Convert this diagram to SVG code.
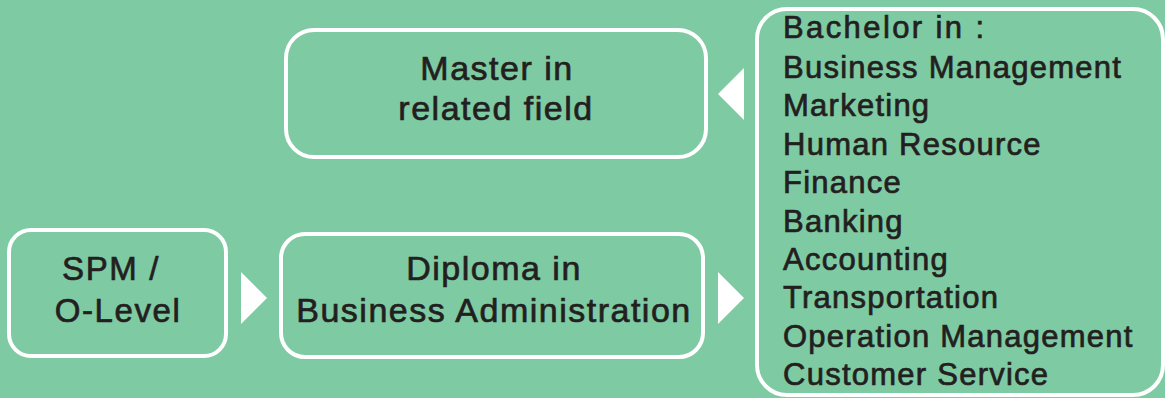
<svg xmlns="http://www.w3.org/2000/svg" width="1165" height="398" viewBox="0 0 1165 398">
<style>
.box{fill:none;stroke:#ffffff;stroke-width:4}
.arr{fill:#ffffff}
text{font-family:"Liberation Sans",Arial,Helvetica,sans-serif;fill:#231f20;stroke:#231f20;stroke-width:0.7px}
.c{text-anchor:middle}
.t1{font-size:33px;letter-spacing:1.6px}
.t2{font-size:34px;letter-spacing:1.5px}
.t3{font-size:31px;letter-spacing:1.25px}
.hd{letter-spacing:2.4px}
</style>
<rect width="1165" height="398" fill="#7ecaa3"/>
<g id="spm">
<rect class="box" x="9" y="230" width="217" height="126" rx="22"/>
<text class="t1 c" x="111" y="280">SPM /</text>
<text class="t1 c" x="118" y="322">O-Level</text>
</g>
<g id="diploma">
<rect class="box" x="281" y="234" width="422" height="123" rx="24"/>
<text class="t2 c" x="494" y="280">Diploma in</text>
<text class="t2 c" x="494" y="322">Business Administration</text>
</g>
<g id="master">
<rect class="box" x="286" y="30" width="420" height="127" rx="28"/>
<text class="t2 c" x="497" y="80">Master in</text>
<text class="t2 c" x="496" y="120">related field</text>
</g>
<g id="bachelor">
<rect class="box" x="757" y="9" width="406" height="386" rx="30"/>
<text class="t3 hd" x="783" y="38">Bachelor in :</text>
<text class="t3" x="783" y="78">Business Management</text>
<text class="t3" x="783" y="116">Marketing</text>
<text class="t3" x="783" y="155">Human Resource</text>
<text class="t3" x="783" y="193">Finance</text>
<text class="t3" x="783" y="232">Banking</text>
<text class="t3" x="783" y="270">Accounting</text>
<text class="t3" x="783" y="308">Transportation</text>
<text class="t3" x="783" y="347">Operation Management</text>
<text class="t3" x="783" y="385">Customer Service</text>
</g>
<g id="connectors">
<polygon class="arr" points="241,272 267,298 241,324"/>
<polygon class="arr" points="718,272 744,298 718,324"/>
<polygon class="arr" points="744,68 718,94 744,120"/>
</g>
</svg>
